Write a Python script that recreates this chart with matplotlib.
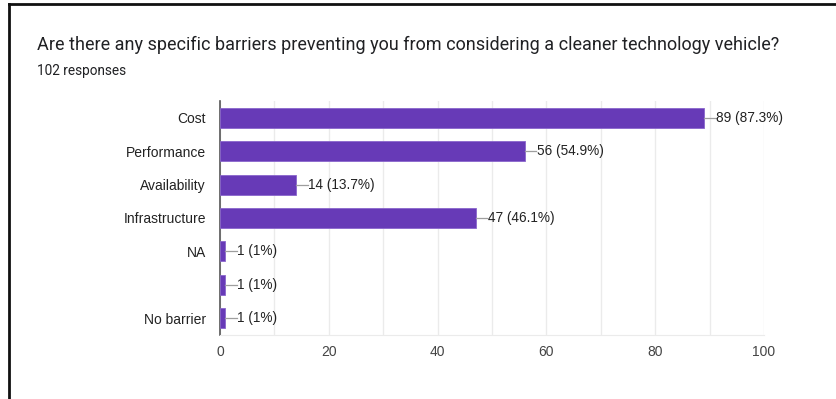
import numpy as np
import matplotlib.pyplot as plt
from matplotlib.lines import Line2D

categories = ['Cost', 'Performance', 'Availability', 'Infrastructure', 'NA', '', 'No barrier']
counts = [89, 56, 14, 47, 1, 1, 1]
percents = ['87.3%', '54.9%', '13.7%', '46.1%', '1%', '1%', '1%']
xticks = [0, 20, 40, 60, 80, 100]

purple = '#673ab7'
label_font = 'Liberation Sans'

fig = plt.figure(figsize=(8.37, 3.99), dpi=100)
ax = fig.add_axes([0.2628, 0.1604, 0.65, 0.5865])

y = np.arange(len(categories))
ax.barh(y, counts, height=0.6, color=purple, edgecolor='#8a66cc', linewidth=0.6, zorder=3)

# leader lines + value labels
for yi, c, p in zip(y, counts, percents):
    ax.plot([c, c + 2.1], [yi, yi], color='#9e9e9e', linewidth=0.9, zorder=3, clip_on=False)
    ax.text(c + 2.2, yi, f'{c} ({p})', va='center', ha='left', fontsize=9.8,
            family=label_font, color='#222222')

ax.set_xlim(0, 100)
ax.set_ylim(len(categories) - 0.5, -0.5)
ax.set_xticks(xticks)
ax.set_xticks(np.arange(0, 101, 10), minor=True)
ax.set_yticks(y)
ax.set_yticklabels(categories)
ax.grid(axis='x', which='both', color='#ebebeb', linewidth=1, zorder=0)
ax.tick_params(axis='both', which='both', length=0, labelsize=10, colors='#222222')
ax.tick_params(axis='x', pad=7, colors='#444444')
ax.tick_params(axis='y', pad=10)
for lbl in ax.get_xticklabels() + ax.get_yticklabels():
    lbl.set_family(label_font)

for s in ['top', 'right']:
    ax.spines[s].set_visible(False)
ax.spines['bottom'].set_color('#ebebeb')
ax.spines['left'].set_color('#555555')
ax.spines['left'].set_linewidth(1.2)

fig.text(37 / 837, 1 - 45 / 399, 'Are there any specific barriers preventing you from considering a cleaner technology vehicle?',
         fontsize=13.0, family='Roboto', color='#202124', va='center', ha='left')
fig.text(37 / 837, 1 - 71 / 399, '102 responses', fontsize=9.8, family='Roboto', color='#202124',
         va='center', ha='left')

# screenshot frame (top and left edges)
fig.add_artist(Line2D([9 / 837, 1], [1 - 4 / 399, 1 - 4 / 399], color='#111111', linewidth=2,
                      transform=fig.transFigure))
fig.add_artist(Line2D([9 / 837, 9 / 837], [0, 1 - 4 / 399], color='#111111', linewidth=2,
                      transform=fig.transFigure))

fig.savefig('out.png', dpi=100)
